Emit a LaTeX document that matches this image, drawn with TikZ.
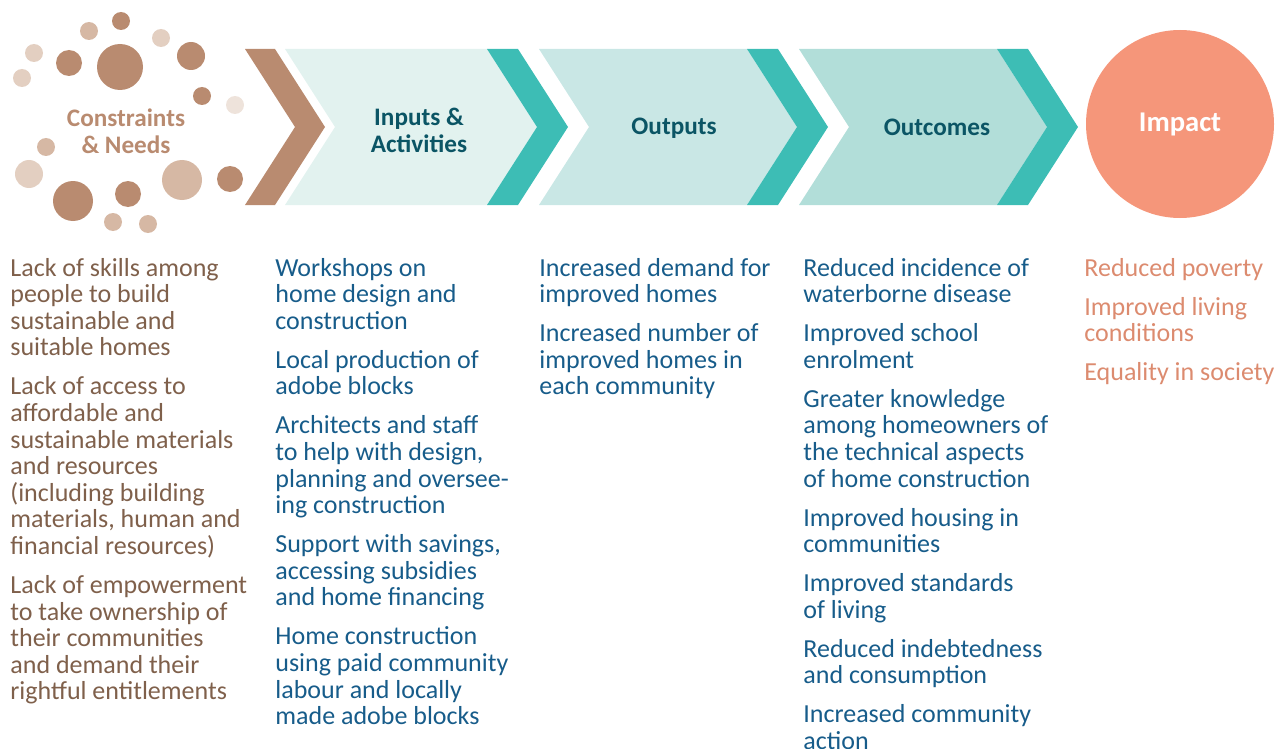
\documentclass[tikz,border=0pt]{standalone}
\usepackage{fontspec}
\setmainfont{Carlito}
\usepackage{tikz}

\definecolor{clay}{HTML}{B98B70}
\definecolor{claymid}{HTML}{D6B8A4}
\definecolor{claylight}{HTML}{E3CFC1}
\definecolor{claypale}{HTML}{EEE3DB}
\definecolor{claytext}{HTML}{7F604B}
\definecolor{tealc}{HTML}{3DBDB5}
\definecolor{stageA}{HTML}{E2F2EF}
\definecolor{stageB}{HTML}{C9E7E5}
\definecolor{stageC}{HTML}{B2DED9}
\definecolor{headtext}{HTML}{0B5565}
\definecolor{bodytext}{HTML}{175C8A}
\definecolor{salmon}{HTML}{F5967A}
\definecolor{salmontext}{HTML}{DC8B6F}

\begin{document}
\begin{tikzpicture}[x=0.5pt,y=-0.5pt,
    head/.style={inner sep=0pt, align=center, font=\fontsize{12.6}{13.5}\selectfont\bfseries},
    body/.style={anchor=base west, inner sep=0pt, align=left, font=\fontsize{13}{13.3}\selectfont}]
    \useasboundingbox (0,0) rectangle (1280,749);

    % cloud of dots round the first heading
    \foreach \cx/\cy/\r/\c in {121/21/9/clay, 89/31/9/claymid, 161/38/9/claylight,
        34/53/9/claylight, 69/63/13/clay, 120/67/23/clay, 191/56/14/clay,
        22/78/9/claylight, 202/96/9/clay, 235/105/9/claypale, 46/147/9/claymid,
        29/174/14/claylight, 182/180/20/claymid, 230/179/13/clay, 73/201/20/clay,
        128/194/13/clay, 113/222/9/claymid, 148/224/9/claymid}
        \fill[\c] (\cx,\cy) circle ({\r*0.5pt});

    % stage panels
    \fill[stageA] (285,49) -- (487,49) -- (537,127) -- (487,205) -- (285,205) -- (335,127) -- cycle;
    \fill[stageB] (539,49) -- (747,49) -- (797,127) -- (747,205) -- (539,205) -- (589,127) -- cycle;
    \fill[stageC] (799,49) -- (997,49) -- (1047,127) -- (997,205) -- (799,205) -- (849,127) -- cycle;

    % chevrons between the stages
    \fill[clay] (245,49) -- ++(30,0) -- ++(50,78) -- ++(-50,78) -- ++(-30,0) -- ++(50,-78) -- cycle;
    \foreach \x in {487,747,997}
        \fill[tealc] (\x,49) -- ++(31,0) -- ++(50,78) -- ++(-50,78) -- ++(-31,0) -- ++(50,-78) -- cycle;

    \node[circle, fill=salmon, minimum size=94pt, inner sep=0pt] (impact) at (1180,124) {};

    % headings
    \node[head, text=clay] (needs) at (126,131) {Constraints\\\& Needs};
    \node[head, text=headtext] (inputs) at (419,130) {Inputs \&\\Activities};
    \node[head, text=headtext] (outputs) at (674,128) {Outputs};
    \node[head, text=headtext] (outcomes) at (937,127) {Outcomes};
    \node[head, text=white, font=\fontsize{14.3}{15}\selectfont\bfseries] (impacthead) at (impact) {Impact};

    % lists under each stage (placed by the baseline of their last line)
    \node[body, text=claytext] (needslist) at (10,699.8) {Lack of skills among\\people to build\\sustainable and\\suitable homes\\[6.2pt]
        Lack of access to\\affordable and\\sustainable materials\\and resources\\(including building\\materials, human and\\financial resources)\\[6.2pt]
        Lack of empowerment\\to take ownership of\\their communities\\and demand their\\rightful entitlements};
    \node[body, text=bodytext] (inputslist) at (275,724.6) {Workshops on\\home design and\\construction\\[6.2pt]
        Local production of\\adobe blocks\\[6.2pt]
        Architects and staff\\to help with design,\\planning and oversee-\\ing construction\\[6.2pt]
        Support with savings,\\accessing subsidies\\and home financing\\[6.2pt]
        Home construction\\using paid community\\labour and locally\\made adobe blocks};
    \node[body, text=bodytext] (outputslist) at (539,394.8) {Increased demand for\\improved homes\\[6.2pt]
        Increased number of\\improved homes in\\each community};
    \node[body, text=bodytext] (outcomeslist) at (803,749.4) {Reduced incidence of\\waterborne disease\\[6.2pt]
        Improved school\\enrolment\\[6.2pt]
        Greater knowledge\\among homeowners of\\the technical aspects\\of home construction\\[6.2pt]
        Improved housing in\\communities\\[6.2pt]
        Improved standards\\of living\\[6.2pt]
        Reduced indebtedness\\and consumption\\[6.2pt]
        Increased community\\action};
    \node[body, text=salmontext] (impactlist) at (1084,380.6) {Reduced poverty\\[6.2pt]
        Improved living\\conditions\\[6.2pt]
        Equality in society};
\end{tikzpicture}
\end{document}
